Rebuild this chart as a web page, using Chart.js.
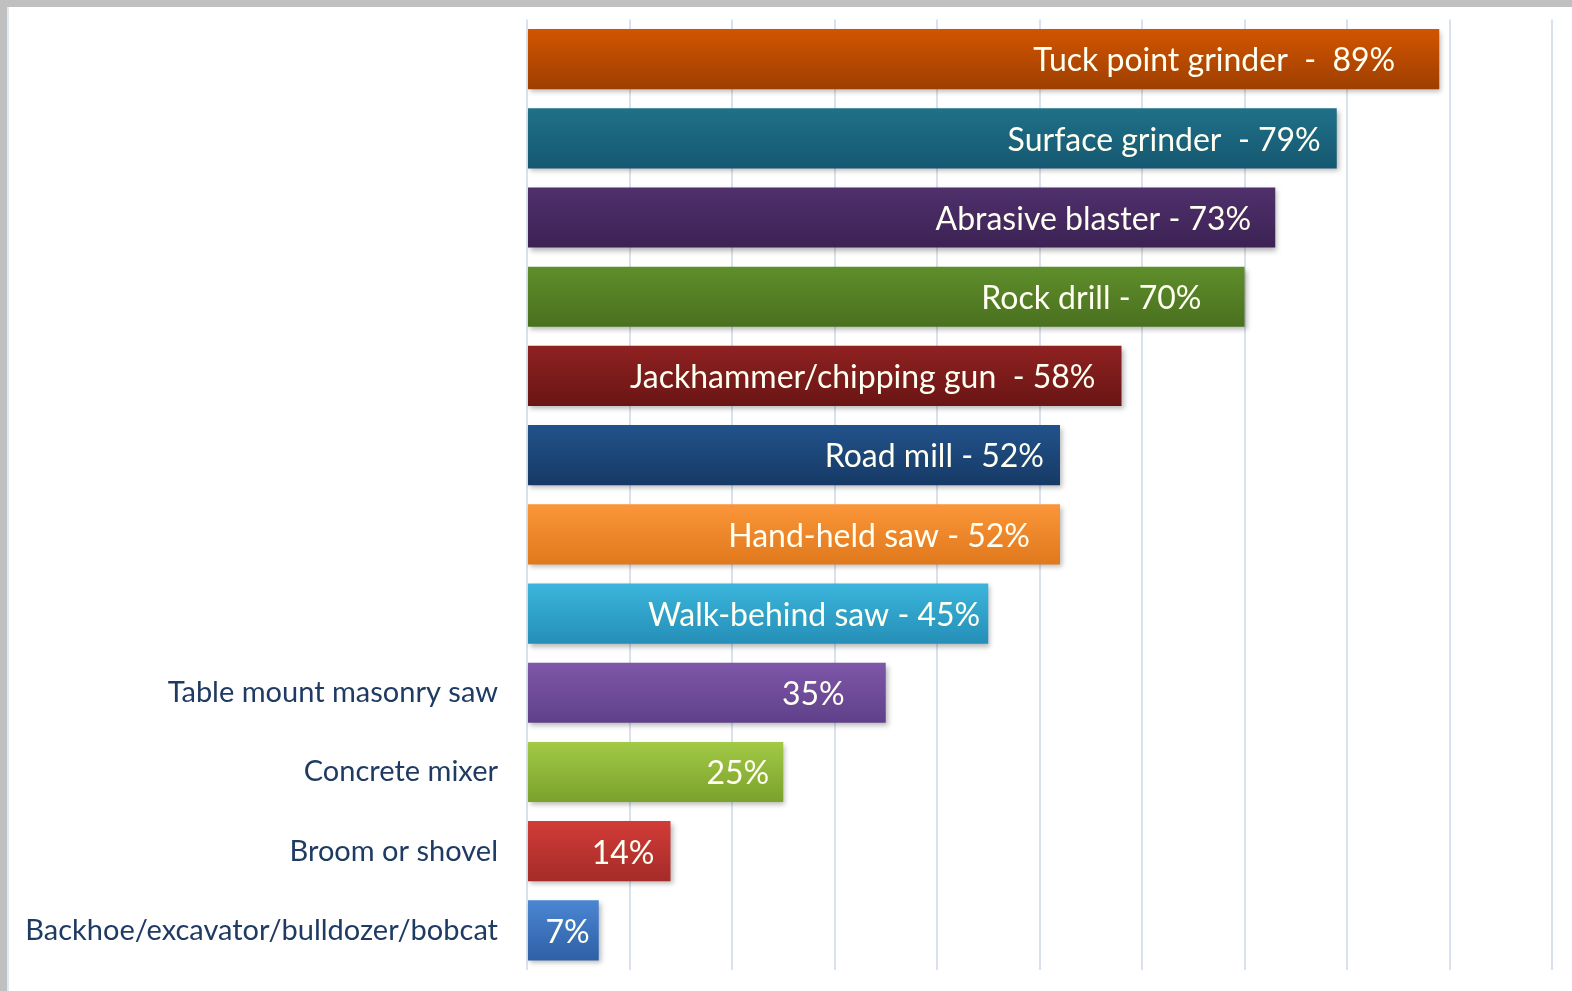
<!DOCTYPE html>
<html>
<head>
<meta charset="utf-8">
<script src="https://cdn.jsdelivr.net/npm/chart.js@4.4.1/dist/chart.umd.min.js"></script>
<style>
  html, body { margin: 0; padding: 0; width: 1572px; height: 991px; background: #C0C0C0; overflow: hidden; }
  #frame { position: absolute; left: 7px; top: 7px; right: 0; bottom: 0; background: #fff; border-left: 2px solid #E2E8F0; }
  #wrap { position: absolute; left: 0; top: 0; width: 1572px; height: 991px; }
</style>
</head>
<body>
<div id="frame"></div>
<div id="wrap"><canvas id="c" width="1572" height="991"></canvas></div>
<script>
// ---- data ----
const categories = [
  "Tuck point grinder", "Surface grinder", "Abrasive blaster", "Rock drill",
  "Jackhammer/chipping gun", "Road mill", "Hand-held saw", "Walk-behind saw",
  "Table mount masonry saw", "Concrete mixer", "Broom or shovel",
  "Backhoe/excavator/bulldozer/bobcat"
];
const values = [89, 79, 73, 70, 58, 52, 52, 45, 35, 25, 14, 7];
const tickLabels = ["", "", "", "", "", "", "", "",
  "Table mount masonry saw", "Concrete mixer", "Broom or shovel",
  "Backhoe/excavator/bulldozer/bobcat"];
const barLabels = [
  "Tuck point grinder  -  89%", "Surface grinder  - 79%", "Abrasive blaster - 73%",
  "Rock drill - 70%", "Jackhammer/chipping gun  - 58%", "Road mill - 52%",
  "Hand-held saw - 52%", "Walk-behind saw - 45%", "35%", "25%", "14%", "7%"
];
// ---- style ----
const topColors = ["#D25500", "#1F7089", "#4F306C", "#5F8E2B", "#8F2121", "#22528B",
  "#FA9639", "#3BB5DC", "#7F57A9", "#A2CA46", "#D23C37", "#4B86D2"];
const bottomColors = ["#9E3F00", "#165871", "#3C2254", "#4A701F", "#6A1515", "#163A65",
  "#E1781D", "#258FB7", "#5F408A", "#7BA12B", "#A42B29", "#2E60A6"];
const labelInsets = [44, 16, 24, 43, 26, 16, 30, 8, 41, 14, 16, 9];
const BAR_PCT = 0.76;

const shadowPlugin = {
  id: 'barShadow',
  beforeDatasetsDraw(chart) {
    const ctx = chart.ctx;
    ctx.save();
    ctx.shadowColor = 'rgba(0,0,0,0.28)';
    ctx.shadowBlur = 5;
    ctx.shadowOffsetX = 2;
    ctx.shadowOffsetY = 3;
  },
  afterDatasetsDraw(chart) {
    chart.ctx.restore();
  }
};

const labelPlugin = {
  id: 'barLabels',
  afterDatasetsDraw(chart) {
    const ctx = chart.ctx;
    const meta = chart.getDatasetMeta(0);
    ctx.save();
    ctx.font = '32px Lato';
    ctx.fillStyle = '#FFFFF2';
    ctx.textAlign = 'right';
    ctx.textBaseline = 'middle';
    meta.data.forEach((bar, i) => {
      ctx.fillText(barLabels[i], bar.x - labelInsets[i], bar.y + 2);
    });
    ctx.restore();
  }
};

const ctx = document.getElementById('c').getContext('2d');
new Chart(ctx, {
  type: 'bar',
  data: {
    labels: categories,
    datasets: [{
      data: values,
      backgroundColor(c) {
        const chart = c.chart;
        const i = c.dataIndex;
        const ys = chart.scales && chart.scales.y;
        if (!ys || !chart.chartArea) return topColors[i];
        const cy = ys.getPixelForValue(i);
        const h = (ys.bottom - ys.top) / categories.length * BAR_PCT;
        if (!isFinite(cy) || !isFinite(h) || h <= 0) return topColors[i];
        const g = chart.ctx.createLinearGradient(0, cy - h / 2, 0, cy + h / 2);
        g.addColorStop(0, topColors[i]);
        g.addColorStop(1, bottomColors[i]);
        return g;
      },
      borderWidth: 0,
      barPercentage: BAR_PCT,
      categoryPercentage: 1.0
    }]
  },
  options: {
    indexAxis: 'y',
    responsive: false,
    animation: false,
    devicePixelRatio: 1,
    layout: { padding: { left: 0, right: 20, top: 19.5, bottom: 21 } },
    plugins: { legend: { display: false }, tooltip: { enabled: false } },
    scales: {
      x: {
        min: 0, max: 100,
        ticks: { display: false, stepSize: 10 },
        grid: { color: '#D9E2EC', lineWidth: 2, drawTicks: false },
        border: { display: false },
        afterFit(s) { s.height = 0; s.paddingLeft = 0; s.paddingRight = 0; }
      },
      y: {
        ticks: {
          callback: (v, i) => tickLabels[i],
          font: { family: 'Lato', size: 29 },
          color: '#1F3B63',
          padding: 29,
          autoSkip: false
        },
        grid: { display: false, drawTicks: false },
        border: { display: false },
        afterFit(s) { s.width = 527; s.paddingTop = 0; s.paddingBottom = 0; }
      }
    }
  },
  plugins: [shadowPlugin, labelPlugin]
});
</script>
</body>
</html>
